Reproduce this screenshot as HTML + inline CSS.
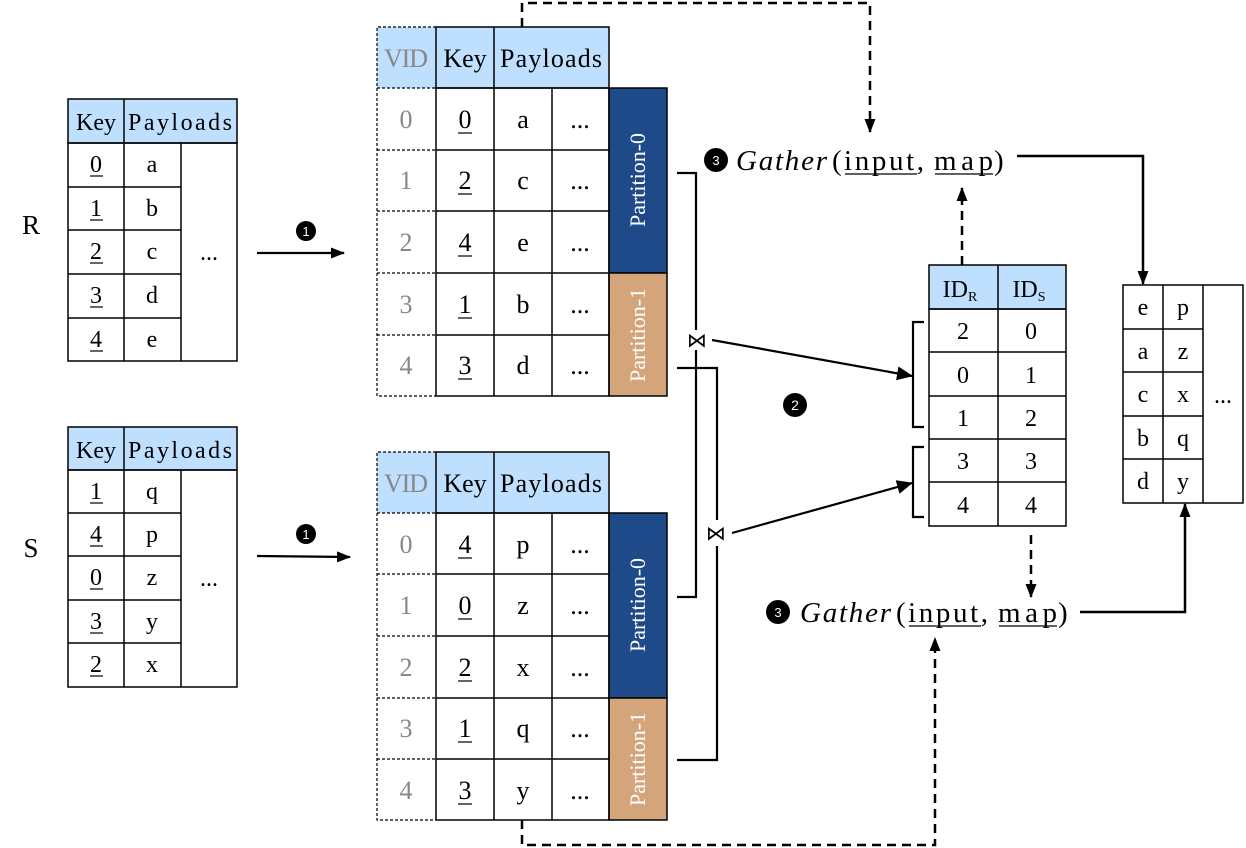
<!DOCTYPE html>
<html><head><meta charset="utf-8"><style>
body{margin:0;background:#fff}
svg{display:block}
text{font-family:"Liberation Serif",serif;fill:#000}
.g{fill:#888}
.w{fill:#fff}
</style></head><body>
<svg width="1246" height="848" viewBox="0 0 1246 848" xmlns="http://www.w3.org/2000/svg">
<defs>
<marker id="ah" markerWidth="14" markerHeight="14" refX="13" refY="7" orient="auto" markerUnits="userSpaceOnUse"><path d="M0,1.5 L14,7 L0,12.5 z" fill="#000"/></marker>
<marker id="ah2" markerWidth="16" markerHeight="14" refX="15" refY="7" orient="auto" markerUnits="userSpaceOnUse"><path d="M0,0 L16,7 L0,14 z" fill="#000"/></marker>
</defs>

<text x="31" y="234" font-size="27" text-anchor="middle">R</text>
<text x="31" y="557" font-size="27" text-anchor="middle">S</text>

<g stroke="#000" stroke-width="1.5" fill="none">
<rect x="68" y="99" width="169" height="44" fill="#bfdfff"/>
<line x1="124" y1="99" x2="124" y2="361"/>
<rect x="68" y="143" width="169" height="218"/>
<line x1="181" y1="143" x2="181" y2="361"/>
<line x1="68" y1="187" x2="181" y2="187"/><line x1="68" y1="230" x2="181" y2="230"/><line x1="68" y1="274" x2="181" y2="274"/><line x1="68" y1="318" x2="181" y2="318"/>

<rect x="68" y="427" width="169" height="43" fill="#bfdfff"/>
<line x1="124" y1="427" x2="124" y2="687"/>
<rect x="68" y="470" width="169" height="217"/>
<line x1="181" y1="470" x2="181" y2="687"/>
<line x1="68" y1="513" x2="181" y2="513"/><line x1="68" y1="556" x2="181" y2="556"/><line x1="68" y1="600" x2="181" y2="600"/><line x1="68" y1="643" x2="181" y2="643"/>
</g>
<g font-size="24" text-anchor="middle">
<text x="96" y="130">Key</text><text x="180" y="130" textLength="104">Payloads</text>
<text x="96" y="172">0</text><text x="96" y="216">1</text><text x="96" y="259">2</text><text x="96" y="303">3</text><text x="96" y="347">4</text>
<text x="152" y="172">a</text><text x="152" y="216">b</text><text x="152" y="259">c</text><text x="152" y="303">d</text><text x="152" y="347">e</text>
<text x="209" y="260">...</text>
<text x="96" y="458">Key</text><text x="180" y="458" textLength="104">Payloads</text>
<text x="96" y="499">1</text><text x="96" y="542">4</text><text x="96" y="585">0</text><text x="96" y="629">3</text><text x="96" y="672">2</text>
<text x="152" y="499">q</text><text x="152" y="542">p</text><text x="152" y="585">z</text><text x="152" y="629">y</text><text x="152" y="672">x</text>
<text x="209" y="586">...</text>
</g>
<g stroke="#000" stroke-width="1.2">
<line x1="90" y1="176" x2="103" y2="176"/><line x1="90" y1="220" x2="103" y2="220"/><line x1="90" y1="263" x2="103" y2="263"/><line x1="90" y1="307" x2="103" y2="307"/><line x1="90" y1="351" x2="103" y2="351"/>
<line x1="90" y1="503" x2="103" y2="503"/><line x1="90" y1="546" x2="103" y2="546"/><line x1="90" y1="589" x2="103" y2="589"/><line x1="90" y1="633" x2="103" y2="633"/><line x1="90" y1="676" x2="103" y2="676"/>
</g>

<line x1="257" y1="253" x2="344" y2="253" stroke="#000" stroke-width="2.2" marker-end="url(#ah)"/>
<line x1="257" y1="556" x2="350" y2="557" stroke="#000" stroke-width="2.2" marker-end="url(#ah)"/>
<circle cx="306" cy="231" r="10"/><text x="306" y="236" font-size="13" text-anchor="middle" class="w" style="font-family:'Liberation Sans',sans-serif">1</text>
<circle cx="306" cy="534" r="10"/><text x="306" y="539" font-size="13" text-anchor="middle" class="w" style="font-family:'Liberation Sans',sans-serif">1</text>

<g stroke="#000" stroke-width="1.5" fill="none">
<rect x="377" y="27" width="232" height="61" fill="#bfdfff" stroke="none"/>
<rect x="609" y="88" width="58" height="185" fill="#1f4a8a"/>
<rect x="609" y="273" width="58" height="123" fill="#d4a57a"/>
<rect x="436" y="27" width="173" height="61"/>
<line x1="494" y1="27" x2="494" y2="88"/>
<rect x="436" y="88" width="173" height="308"/>
<line x1="494" y1="88" x2="494" y2="396"/><line x1="552" y1="88" x2="552" y2="396"/>
<line x1="436" y1="150" x2="609" y2="150"/><line x1="436" y1="211" x2="609" y2="211"/><line x1="436" y1="273" x2="609" y2="273"/><line x1="436" y1="335" x2="609" y2="335"/>
<g stroke-dasharray="3,2" stroke-width="1.2">
<polyline points="436,27 377,27 377,396 436,396"/>
<line x1="377" y1="88" x2="436" y2="88"/><line x1="377" y1="150" x2="436" y2="150"/><line x1="377" y1="211" x2="436" y2="211"/><line x1="377" y1="273" x2="436" y2="273"/><line x1="377" y1="335" x2="436" y2="335"/>
</g>

<rect x="377" y="452" width="232" height="61" fill="#bfdfff" stroke="none"/>
<rect x="609" y="513" width="58" height="185" fill="#1f4a8a"/>
<rect x="609" y="698" width="58" height="122" fill="#d4a57a"/>
<rect x="436" y="452" width="173" height="61"/>
<line x1="494" y1="452" x2="494" y2="513"/>
<rect x="436" y="513" width="173" height="307"/>
<line x1="494" y1="513" x2="494" y2="820"/><line x1="552" y1="513" x2="552" y2="820"/>
<line x1="436" y1="574" x2="609" y2="574"/><line x1="436" y1="636" x2="609" y2="636"/><line x1="436" y1="698" x2="609" y2="698"/><line x1="436" y1="759" x2="609" y2="759"/>
<g stroke-dasharray="3,2" stroke-width="1.2">
<polyline points="436,452 377,452 377,820 436,820"/>
<line x1="377" y1="513" x2="436" y2="513"/><line x1="377" y1="574" x2="436" y2="574"/><line x1="377" y1="636" x2="436" y2="636"/><line x1="377" y1="698" x2="436" y2="698"/><line x1="377" y1="759" x2="436" y2="759"/>
</g>
</g>
<g font-size="26" text-anchor="middle">
<text x="406" y="67" class="g" textLength="44">VID</text><text x="465" y="67">Key</text><text x="551" y="67" textLength="102">Payloads</text>
<text x="406" y="128" class="g">0</text><text x="406" y="189" class="g">1</text><text x="406" y="251" class="g">2</text><text x="406" y="313" class="g">3</text><text x="406" y="374" class="g">4</text>
<text x="465" y="128">0</text><text x="465" y="189">2</text><text x="465" y="251">4</text><text x="465" y="313">1</text><text x="465" y="374">3</text>
<text x="523" y="128">a</text><text x="523" y="189">c</text><text x="523" y="251">e</text><text x="523" y="313">b</text><text x="523" y="374">d</text>
<text x="580" y="128">...</text><text x="580" y="189">...</text><text x="580" y="251">...</text><text x="580" y="313">...</text><text x="580" y="374">...</text>

<text x="406" y="492" class="g" textLength="44">VID</text><text x="465" y="492">Key</text><text x="551" y="492" textLength="102">Payloads</text>
<text x="406" y="553" class="g">0</text><text x="406" y="614" class="g">1</text><text x="406" y="676" class="g">2</text><text x="406" y="737" class="g">3</text><text x="406" y="799" class="g">4</text>
<text x="465" y="553">4</text><text x="465" y="614">0</text><text x="465" y="676">2</text><text x="465" y="737">1</text><text x="465" y="799">3</text>
<text x="523" y="553">p</text><text x="523" y="614">z</text><text x="523" y="676">x</text><text x="523" y="737">q</text><text x="523" y="799">y</text>
<text x="580" y="553">...</text><text x="580" y="614">...</text><text x="580" y="676">...</text><text x="580" y="737">...</text><text x="580" y="799">...</text>
</g>
<g stroke="#000" stroke-width="1.2">
<line x1="458" y1="133" x2="472" y2="133"/><line x1="458" y1="194" x2="472" y2="194"/><line x1="458" y1="256" x2="472" y2="256"/><line x1="458" y1="318" x2="472" y2="318"/><line x1="458" y1="379" x2="472" y2="379"/>
<line x1="458" y1="558" x2="472" y2="558"/><line x1="458" y1="619" x2="472" y2="619"/><line x1="458" y1="681" x2="472" y2="681"/><line x1="458" y1="742" x2="472" y2="742"/><line x1="458" y1="804" x2="472" y2="804"/>
</g>
<g font-size="22" text-anchor="middle" class="w">
<text transform="translate(645,180) rotate(-90)" class="w">Partition-0</text>
<text transform="translate(645,335) rotate(-90)" class="w">Partition-1</text>
<text transform="translate(645,605) rotate(-90)" class="w">Partition-0</text>
<text transform="translate(645,759) rotate(-90)" class="w">Partition-1</text>
</g>

<g stroke="#000" stroke-width="2.2" fill="none">
<polyline points="677,173 696,173 696,330"/>
<polyline points="696,350 696,597 677,597"/>
<polyline points="677,368 717,368 717,520"/>
<polyline points="717,546 717,760 677,760"/>
<line x1="712" y1="340" x2="912" y2="376" marker-end="url(#ah2)"/>
<line x1="732" y1="533" x2="912" y2="483" marker-end="url(#ah2)"/>
<polyline points="924,322 913,322 913,427 924,427"/>
<polyline points="924,447 913,447 913,517 924,517"/>
</g>
<text x="697" y="347" font-size="20" text-anchor="middle" style="font-family:'DejaVu Sans',sans-serif">⋈</text>
<text x="716" y="540" font-size="20" text-anchor="middle" style="font-family:'DejaVu Sans',sans-serif">⋈</text>
<circle cx="795" cy="405" r="12"/><text x="795" y="410" font-size="14" text-anchor="middle" class="w" style="font-family:'Liberation Sans',sans-serif">2</text>

<g stroke="#000" stroke-width="1.5" fill="none">
<rect x="929" y="265" width="137" height="44" fill="#bfdfff"/>
<rect x="929" y="309" width="137" height="217"/>
<line x1="998" y1="265" x2="998" y2="526"/>
<line x1="929" y1="352" x2="1066" y2="352"/><line x1="929" y1="396" x2="1066" y2="396"/><line x1="929" y1="439" x2="1066" y2="439"/><line x1="929" y1="482" x2="1066" y2="482"/>
</g>
<g font-size="24" text-anchor="middle">
<text x="960" y="297">ID<tspan font-size="14" dy="4">R</tspan></text>
<text x="1029" y="297">ID<tspan font-size="14" dy="4">S</tspan></text>
<text x="963" y="339">2</text><text x="1031" y="339">0</text>
<text x="963" y="383">0</text><text x="1031" y="383">1</text>
<text x="963" y="426">1</text><text x="1031" y="426">2</text>
<text x="963" y="469">3</text><text x="1031" y="469">3</text>
<text x="963" y="513">4</text><text x="1031" y="513">4</text>
</g>

<g stroke="#000" stroke-width="1.5" fill="none">
<rect x="1123" y="285" width="120" height="218"/>
<line x1="1163" y1="285" x2="1163" y2="503"/><line x1="1203" y1="285" x2="1203" y2="503"/>
<line x1="1123" y1="329" x2="1203" y2="329"/><line x1="1123" y1="372" x2="1203" y2="372"/><line x1="1123" y1="416" x2="1203" y2="416"/><line x1="1123" y1="459" x2="1203" y2="459"/>
</g>
<g font-size="24" text-anchor="middle">
<text x="1143" y="315">e</text><text x="1183" y="315">p</text>
<text x="1143" y="359">a</text><text x="1183" y="359">z</text>
<text x="1143" y="402">c</text><text x="1183" y="402">x</text>
<text x="1143" y="446">b</text><text x="1183" y="446">q</text>
<text x="1143" y="489">d</text><text x="1183" y="489">y</text>
<text x="1223" y="403">...</text>
</g>

<circle cx="716" cy="160" r="12"/><text x="716" y="165" font-size="13" text-anchor="middle" class="w" style="font-family:'Liberation Sans',sans-serif">3</text>
<g font-size="29">
<text x="736" y="170" font-style="italic" textLength="91">Gather</text>
<text x="832" y="170">(</text>
<text x="844" y="170" textLength="80">input,</text>
<text x="934" y="170" textLength="59">map</text>
<text x="994" y="170">)</text>
</g>
<g stroke="#000" stroke-width="1.2"><line x1="845" y1="174" x2="917" y2="174"/><line x1="935" y1="174" x2="993" y2="174"/></g>

<circle cx="778" cy="612" r="12"/><text x="778" y="617" font-size="13" text-anchor="middle" class="w" style="font-family:'Liberation Sans',sans-serif">3</text>
<g font-size="29">
<text x="800" y="622" font-style="italic" textLength="91">Gather</text>
<text x="896" y="622">(</text>
<text x="908" y="622" textLength="80">input,</text>
<text x="998" y="622" textLength="59">map</text>
<text x="1058" y="622">)</text>
</g>
<g stroke="#000" stroke-width="1.2"><line x1="909" y1="626" x2="981" y2="626"/><line x1="999" y1="626" x2="1057" y2="626"/></g>

<g stroke="#000" stroke-width="2.5" fill="none">
<polyline points="1017,156 1143,156 1143,284" marker-end="url(#ah)"/>
<polyline points="1080,612 1185,612 1185,504" marker-end="url(#ah)"/>
<g stroke-dasharray="9,6">
<polyline points="522,27 522,3 870,3 870,132" marker-end="url(#ah)"/>
<polyline points="522,820 522,845 935,845 935,638" marker-end="url(#ah)"/>
<line x1="962" y1="265" x2="962" y2="188" marker-end="url(#ah)"/>
<line x1="1031" y1="535" x2="1031" y2="597" marker-end="url(#ah)"/>
</g>
</g>
</svg>
</body></html>
